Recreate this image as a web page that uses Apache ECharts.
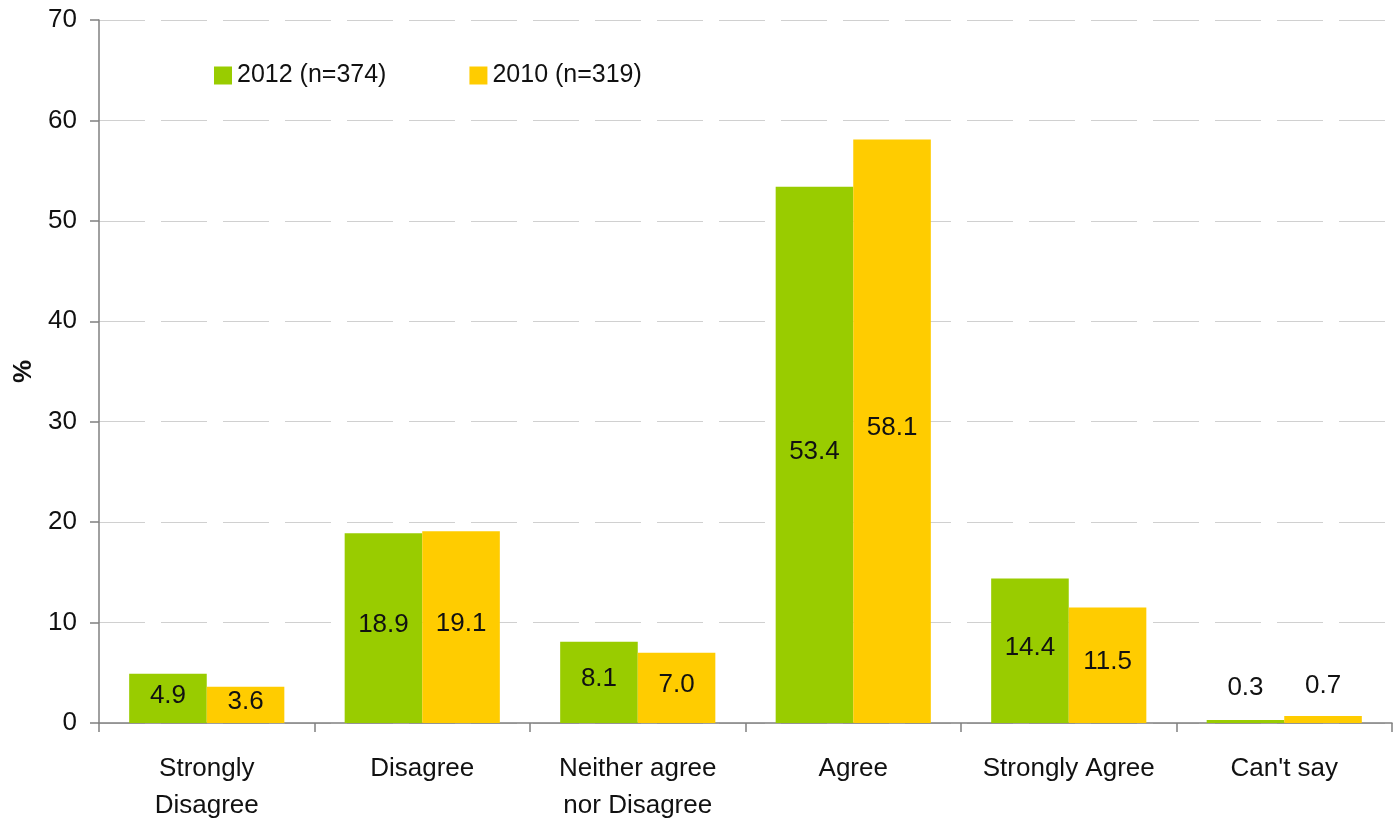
<!DOCTYPE html>
<html>
<head>
<meta charset="utf-8">
<script src="https://cdn.jsdelivr.net/npm/echarts@6/dist/echarts.min.js"></script>
<style>html,body{margin:0;padding:0;background:#fff}#c{width:1397px;height:822px}</style>
</head>
<body>
<div id="c"></div>
<script>
const categories = ['Strongly\nDisagree', 'Disagree', 'Neither agree\nnor Disagree', 'Agree', 'Strongly Agree', "Can't say"];
const seriesNames = ['2012 (n=374)', '2010 (n=319)'];
const values2012 = [4.9, 18.9, 8.1, 53.4, 14.4, 0.3];
const values2010 = [3.6, 19.1, 7.0, 58.1, 11.5, 0.7];
const colors = ['#99CC00', '#FFCC00'];
const FONT = '"Liberation Sans", Arial, sans-serif';
const FS = 26;

function toData(vals) {
  return vals.map(v => v < 2
    ? { value: v, label: { position: 'top', distance: 18 - v * 5 } }
    : { value: v });
}

const chart = echarts.init(document.getElementById('c'), null, { renderer: 'canvas' });
const labelCfg = {
  show: true, position: 'inside', offset: [0, -3], color: '#111', fontSize: FS, fontFamily: FONT,
  formatter: p => p.value.toFixed(1)
};
chart.setOption({
  animation: false,
  textStyle: { fontFamily: FONT },
  grid: { left: 99, right: 5, top: 20, bottom: 99, outerBoundsMode: 'none', containLabel: false },
  legend: {
    left: 209, top: 58, itemWidth: 18, itemHeight: 18, itemGap: 83,
    icon: 'rect',
    textStyle: { fontSize: 25, color: '#111', fontFamily: FONT },
    data: seriesNames
  },
  xAxis: {
    type: 'category', data: categories,
    axisLine: { lineStyle: { color: '#808080', width: 1.5 } },
    axisTick: { show: true, length: 9, alignWithLabel: false, lineStyle: { color: '#808080', width: 1.5 } },
    axisLabel: { color: '#111', fontSize: FS, fontFamily: FONT, margin: 27, lineHeight: 37, interval: 0 }
  },
  yAxis: {
    type: 'value', min: 0, max: 70, interval: 10,
    name: '%', nameLocation: 'middle', nameGap: 62, nameRotate: 90,
    nameTextStyle: { fontSize: FS, fontWeight: 'bold', color: '#111', fontFamily: FONT },
    axisLine: { show: true, lineStyle: { color: '#808080', width: 1.5 } },
    axisTick: { show: true, length: 9, inside: false, lineStyle: { color: '#808080', width: 1.5 } },
    axisLabel: { color: '#111', fontSize: FS, fontFamily: FONT, margin: 22 },
    splitLine: { show: true, lineStyle: { color: '#d0d0d0', width: 1, type: [46, 16] } }
  },
  series: [
    { name: seriesNames[0], type: 'bar', data: toData(values2012), itemStyle: { color: colors[0] },
      barGap: '0%', barCategoryGap: '28%', label: labelCfg },
    { name: seriesNames[1], type: 'bar', data: toData(values2010), itemStyle: { color: colors[1] },
      barGap: '0%', barCategoryGap: '28%', label: labelCfg }
  ]
});
</script>
</body>
</html>
